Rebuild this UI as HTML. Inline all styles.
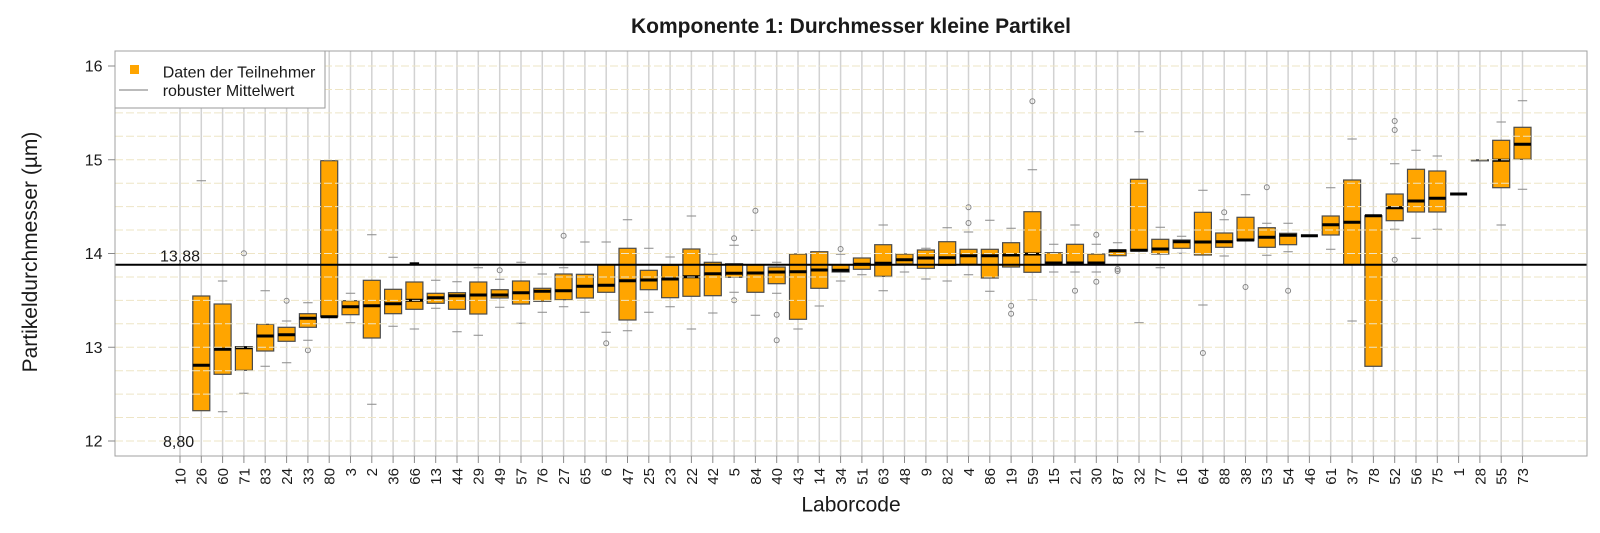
<!DOCTYPE html>
<html>
<head>
<meta charset="utf-8">
<style>
html,body{margin:0;padding:0;background:#fff;}
svg{display:block;}
text{font-family:"Liberation Sans",Arial,sans-serif;fill:#1a1a1a;}
</style>
</head>
<body>
<svg width="1600" height="533" viewBox="0 0 1600 533" xmlns="http://www.w3.org/2000/svg">
<rect x="0" y="0" width="1600" height="533" fill="#fff"/>

<!-- vertical gridlines -->
<path fill="none" stroke="#d2d2d2" stroke-width="1.5" d="M180 51V456M201.3 51V456M222.6 51V456M243.9 51V456M265.2 51V456M286.6 51V456M307.9 51V456M329.2 51V456M350.5 51V456M371.8 51V456M393.1 51V456M414.4 51V456M435.7 51V456M457 51V456M478.3 51V456M499.7 51V456M521 51V456M542.3 51V456M563.6 51V456M584.9 51V456M606.2 51V456M627.5 51V456M648.8 51V456M670.1 51V456M691.4 51V456M712.8 51V456M734.1 51V456M755.4 51V456M776.7 51V456M798 51V456M819.3 51V456M840.6 51V456M861.9 51V456M883.2 51V456M904.5 51V456M925.9 51V456M947.2 51V456M968.5 51V456M989.8 51V456M1011.1 51V456M1032.4 51V456M1053.7 51V456M1075 51V456M1096.3 51V456M1117.6 51V456M1139 51V456M1160.3 51V456M1181.6 51V456M1202.9 51V456M1224.2 51V456M1245.5 51V456M1266.8 51V456M1288.1 51V456M1309.4 51V456M1330.7 51V456M1352.1 51V456M1373.4 51V456M1394.7 51V456M1416 51V456M1437.3 51V456M1458.6 51V456M1479.9 51V456M1501.2 51V456M1522.5 51V456"/>

<!-- caps -->
<path fill="none" stroke="#8a8a8a" stroke-width="1" d="M196.6 180.7h9.4M217.9 281h9.4M217.9 411.7h9.4M239.2 393.3h9.4M260.5 290.7h9.4M260.5 366.3h9.4M281.9 321h9.4M281.9 362.7h9.4M303.2 302.7h9.4M303.2 340.3h9.4M345.8 293.3h9.4M345.8 322.7h9.4M367.1 234.7h9.4M367.1 404.3h9.4M388.4 257.3h9.4M388.4 326.3h9.4M409.7 329h9.4M431 280.3h9.4M431 308.3h9.4M452.3 281.7h9.4M452.3 331.7h9.4M473.6 267.7h9.4M473.6 335.3h9.4M495 279.3h9.4M495 307.3h9.4M516.3 262.3h9.4M516.3 323.3h9.4M537.6 274h9.4M537.6 312.3h9.4M558.9 267.7h9.4M558.9 306.7h9.4M580.2 242h9.4M580.2 312.3h9.4M601.5 242h9.4M601.5 332.3h9.4M622.8 219.7h9.4M622.8 330.7h9.4M644.1 248.3h9.4M644.1 312.3h9.4M665.4 257h9.4M665.4 306.7h9.4M686.7 216h9.4M686.7 329h9.4M708.1 254h9.4M708.1 313h9.4M729.4 245.3h9.4M729.4 292.3h9.4M750.7 230.3h9.4M750.7 315.3h9.4M772 262.3h9.4M772 293.3h9.4M793.3 329h9.4M814.6 306h9.4M835.9 254.3h9.4M835.9 281h9.4M857.2 274.7h9.4M878.5 225h9.4M878.5 290.7h9.4M899.8 272h9.4M921.2 248.3h9.4M921.2 279h9.4M942.5 227.7h9.4M942.5 281h9.4M963.8 232h9.4M963.8 274.7h9.4M985.1 220.3h9.4M985.1 291.3h9.4M1006.4 228.3h9.4M1027.7 169.7h9.4M1027.7 300h9.4M1049 244.3h9.4M1049 272h9.4M1070.3 225h9.4M1070.3 272h9.4M1091.6 244.3h9.4M1091.6 272h9.4M1112.9 242.7h9.4M1134.3 131.7h9.4M1134.3 322.7h9.4M1155.6 227.3h9.4M1155.6 267.7h9.4M1176.9 236.3h9.4M1176.9 253.3h9.4M1198.2 190.3h9.4M1198.2 305h9.4M1219.5 219.7h9.4M1219.5 256h9.4M1240.8 194.7h9.4M1262.1 223.3h9.4M1262.1 255.3h9.4M1283.4 223.3h9.4M1283.4 251.7h9.4M1326 187.7h9.4M1326 249.3h9.4M1347.4 139h9.4M1347.4 321h9.4M1390 163.7h9.4M1390 229.3h9.4M1411.3 150.3h9.4M1411.3 238.3h9.4M1432.6 156h9.4M1432.6 229.3h9.4M1496.5 122h9.4M1496.5 225h9.4M1517.8 100.7h9.4M1517.8 189.3h9.4"/>
<path fill="none" stroke="#000" stroke-width="2" d="M409.7 263.3h9.4"/>

<!-- boxes -->
<g fill="#FFA500" stroke="#4a4a4a" stroke-width="1.2">
<rect x="192.8" y="296" width="17" height="114.7"/>
<rect x="214.1" y="304" width="17" height="70.3"/>
<rect x="235.4" y="346.7" width="17" height="23.6"/>
<rect x="256.7" y="324.3" width="17" height="26.7"/>
<rect x="278.1" y="327.3" width="17" height="14"/>
<rect x="299.4" y="313.7" width="17" height="13.6"/>
<rect x="320.7" y="160.7" width="17" height="156"/>
<rect x="342" y="300.7" width="17" height="14"/>
<rect x="363.3" y="280.3" width="17" height="57.7"/>
<rect x="384.6" y="289.3" width="17" height="24.4"/>
<rect x="405.9" y="282" width="17" height="27.3"/>
<rect x="427.2" y="293.3" width="17" height="10"/>
<rect x="448.5" y="292.7" width="17" height="16.6"/>
<rect x="469.8" y="282" width="17" height="32"/>
<rect x="491.2" y="289.7" width="17" height="8.3"/>
<rect x="512.5" y="281" width="17" height="23"/>
<rect x="533.8" y="288.3" width="17" height="13"/>
<rect x="555.1" y="274" width="17" height="25.7"/>
<rect x="576.4" y="274.3" width="17" height="23.7"/>
<rect x="597.7" y="264.7" width="17" height="27.6"/>
<rect x="619" y="248.3" width="17" height="71.7"/>
<rect x="640.3" y="270.3" width="17" height="19.4"/>
<rect x="661.6" y="265.3" width="17" height="32.4"/>
<rect x="682.9" y="249" width="17" height="47.3"/>
<rect x="704.3" y="262.3" width="17" height="33.4"/>
<rect x="725.6" y="263.7" width="17" height="13.6"/>
<rect x="746.9" y="265" width="17" height="27.3"/>
<rect x="768.2" y="267" width="17" height="16.7"/>
<rect x="789.5" y="254" width="17" height="65.3"/>
<rect x="810.8" y="251.7" width="17" height="36.6"/>
<rect x="832.1" y="265" width="17" height="7"/>
<rect x="853.4" y="258" width="17" height="11.3"/>
<rect x="874.7" y="244.7" width="17" height="31.6"/>
<rect x="896" y="254" width="17" height="10"/>
<rect x="917.4" y="250" width="17" height="18.3"/>
<rect x="938.7" y="241.7" width="17" height="23.6"/>
<rect x="960" y="249.3" width="17" height="15"/>
<rect x="981.3" y="249.3" width="17" height="28.7"/>
<rect x="1002.6" y="242.7" width="17" height="24.3"/>
<rect x="1023.9" y="211.7" width="17" height="60.6"/>
<rect x="1045.2" y="252.7" width="17" height="11"/>
<rect x="1066.5" y="244.3" width="17" height="19.4"/>
<rect x="1087.8" y="254" width="17" height="9.7"/>
<rect x="1109.1" y="250" width="17" height="5.7"/>
<rect x="1130.5" y="179.3" width="17" height="71.7"/>
<rect x="1151.8" y="239.3" width="17" height="14.7"/>
<rect x="1173.1" y="240" width="17" height="8.3"/>
<rect x="1194.4" y="212.3" width="17" height="42.7"/>
<rect x="1215.7" y="233" width="17" height="14.3"/>
<rect x="1237" y="217.3" width="17" height="23.4"/>
<rect x="1258.3" y="227.7" width="17" height="19.6"/>
<rect x="1279.6" y="233.3" width="17" height="11.4"/>
<rect x="1322.2" y="216" width="17" height="19"/>
<rect x="1343.6" y="180" width="17" height="84.7"/>
<rect x="1364.9" y="215.7" width="17" height="150.6"/>
<rect x="1386.2" y="194" width="17" height="26.7"/>
<rect x="1407.5" y="169.3" width="17" height="42.7"/>
<rect x="1428.8" y="171" width="17" height="41"/>
<rect x="1471.4" y="159.8" width="17" height="1"/>
<rect x="1492.7" y="140.3" width="17" height="47.4"/>
<rect x="1514" y="127.3" width="17" height="32"/>
</g>

<!-- medians -->
<path fill="none" stroke="#000" stroke-width="3" d="M192.8 365.3h17M214.1 349.3h17M235.4 347.7h17M256.7 336h17M278.1 334.7h17M299.4 318.3h17M320.7 316.7h17M342 306.7h17M363.3 305.7h17M384.6 303.7h17M405.9 300.3h17M427.2 297.7h17M448.5 295.7h17M469.8 295h17M491.2 295h17M512.5 292.7h17M533.8 291.3h17M555.1 290.7h17M576.4 286.3h17M597.7 285.3h17M619 280.7h17M640.3 280h17M661.6 279h17M682.9 276.7h17M704.3 273.7h17M725.6 273.3h17M746.9 273h17M768.2 272h17M789.5 271.7h17M810.8 270h17M832.1 270.3h17M853.4 264.3h17M874.7 263.3h17M896 259.7h17M917.4 258h17M938.7 257.7h17M960 255.7h17M981.3 255.7h17M1002.6 255h17M1023.9 254h17M1045.2 263h17M1066.5 263h17M1087.8 263h17M1109.1 250.7h17M1130.5 250.3h17M1151.8 249h17M1173.1 241.7h17M1194.4 242h17M1215.7 241.7h17M1237 240h17M1258.3 237.3h17M1279.6 235.3h17M1300.9 235.7h17M1322.2 224.7h17M1343.6 222.3h17M1364.9 215.7h17M1386.2 207.7h17M1407.5 201h17M1428.8 198.3h17M1450.1 194h17M1492.7 160.3h17M1514 144.3h17"/>

<!-- outliers -->
<g fill="none" stroke="#858585" stroke-width="1">
<circle cx="243.9" cy="253.3" r="2.5"/>
<circle cx="286.6" cy="300.7" r="2.5"/>
<circle cx="307.9" cy="350.3" r="2.5"/>
<circle cx="499.7" cy="270.3" r="2.5"/>
<circle cx="563.6" cy="235.7" r="2.5"/>
<circle cx="606.2" cy="343.3" r="2.5"/>
<circle cx="734.1" cy="238.3" r="2.5"/>
<circle cx="734.1" cy="300.3" r="2.5"/>
<circle cx="755.4" cy="210.7" r="2.5"/>
<circle cx="776.7" cy="314.7" r="2.5"/>
<circle cx="776.7" cy="340.3" r="2.5"/>
<circle cx="840.6" cy="249" r="2.5"/>
<circle cx="968.5" cy="207.3" r="2.5"/>
<circle cx="968.5" cy="223" r="2.5"/>
<circle cx="1011.1" cy="305.7" r="2.5"/>
<circle cx="1011.1" cy="313.7" r="2.5"/>
<circle cx="1032.4" cy="101.3" r="2.5"/>
<circle cx="1075" cy="290.7" r="2.5"/>
<circle cx="1096.3" cy="234.7" r="2.5"/>
<circle cx="1096.3" cy="281.7" r="2.5"/>
<circle cx="1117.6" cy="269" r="2.5"/>
<circle cx="1117.6" cy="271" r="2.5"/>
<circle cx="1202.9" cy="353" r="2.5"/>
<circle cx="1224.2" cy="212.3" r="2.5"/>
<circle cx="1245.5" cy="287" r="2.5"/>
<circle cx="1266.8" cy="187.3" r="2.5"/>
<circle cx="1288.1" cy="290.7" r="2.5"/>
<circle cx="1394.7" cy="121" r="2.5"/>
<circle cx="1394.7" cy="130" r="2.5"/>
<circle cx="1394.7" cy="259.7" r="2.5"/>
</g>

<!-- horizontal dashed gridlines -->
<path fill="none" stroke="#EEE5C6" stroke-width="1" stroke-dasharray="8,3" d="M115 441H1587M115 417.56H1587M115 394.13H1587M115 370.69H1587M115 347.25H1587M115 323.81H1587M115 300.38H1587M115 276.94H1587M115 253.5H1587M115 230.06H1587M115 206.63H1587M115 183.19H1587M115 159.75H1587M115 136.31H1587M115 112.88H1587M115 89.44H1587M115 66H1587"/>

<!-- mean line -->
<line x1="115" y1="264.75" x2="1587" y2="264.75" stroke="#000" stroke-width="2"/>

<!-- legend -->
<rect x="115" y="51" width="210" height="57" fill="#fff" stroke="#9a9a9a" stroke-width="1"/>
<rect x="130" y="65" width="9" height="9" fill="#FFA500"/>
<line x1="119" y1="90" x2="148" y2="90" stroke="#777" stroke-width="1"/>
<text x="162.7" y="77.3" font-size="16">Daten der Teilnehmer</text>
<text x="162.7" y="96" font-size="16">robuster Mittelwert</text>

<!-- plot border -->
<rect x="115" y="51" width="1472" height="405" fill="none" stroke="#a0a0a0" stroke-width="1"/>

<!-- annotations -->
<text x="160" y="261.5" font-size="16">13,88</text>
<text x="163" y="447" font-size="16">8,80</text>

<!-- y axis ticks -->
<path fill="none" stroke="#8a8a8a" stroke-width="1" d="M108 441H115M108 347.25H115M108 253.5H115M108 159.75H115M108 66H115"/>
<g font-size="16" text-anchor="end">
<text x="102.5" y="446.7">12</text>
<text x="102.5" y="352.9">13</text>
<text x="102.5" y="259.2">14</text>
<text x="102.5" y="165.4">15</text>
<text x="102.5" y="71.7">16</text>
</g>

<!-- x axis ticks -->
<path fill="none" stroke="#8a8a8a" stroke-width="1" d="M180 456V463M201.3 456V463M222.6 456V463M243.9 456V463M265.2 456V463M286.6 456V463M307.9 456V463M329.2 456V463M350.5 456V463M371.8 456V463M393.1 456V463M414.4 456V463M435.7 456V463M457 456V463M478.3 456V463M499.7 456V463M521 456V463M542.3 456V463M563.6 456V463M584.9 456V463M606.2 456V463M627.5 456V463M648.8 456V463M670.1 456V463M691.4 456V463M712.8 456V463M734.1 456V463M755.4 456V463M776.7 456V463M798 456V463M819.3 456V463M840.6 456V463M861.9 456V463M883.2 456V463M904.5 456V463M925.9 456V463M947.2 456V463M968.5 456V463M989.8 456V463M1011.1 456V463M1032.4 456V463M1053.7 456V463M1075 456V463M1096.3 456V463M1117.6 456V463M1139 456V463M1160.3 456V463M1181.6 456V463M1202.9 456V463M1224.2 456V463M1245.5 456V463M1266.8 456V463M1288.1 456V463M1309.4 456V463M1330.7 456V463M1352.1 456V463M1373.4 456V463M1394.7 456V463M1416 456V463M1437.3 456V463M1458.6 456V463M1479.9 456V463M1501.2 456V463M1522.5 456V463"/>
<g font-size="15" text-anchor="end">
<text transform="translate(185.4,468) rotate(-90)">10</text>
<text transform="translate(206.7,468) rotate(-90)">26</text>
<text transform="translate(228,468) rotate(-90)">60</text>
<text transform="translate(249.3,468) rotate(-90)">71</text>
<text transform="translate(270.6,468) rotate(-90)">83</text>
<text transform="translate(292,468) rotate(-90)">24</text>
<text transform="translate(313.3,468) rotate(-90)">33</text>
<text transform="translate(334.6,468) rotate(-90)">80</text>
<text transform="translate(355.9,468) rotate(-90)">3</text>
<text transform="translate(377.2,468) rotate(-90)">2</text>
<text transform="translate(398.5,468) rotate(-90)">36</text>
<text transform="translate(419.8,468) rotate(-90)">66</text>
<text transform="translate(441.1,468) rotate(-90)">13</text>
<text transform="translate(462.4,468) rotate(-90)">44</text>
<text transform="translate(483.7,468) rotate(-90)">29</text>
<text transform="translate(505.1,468) rotate(-90)">49</text>
<text transform="translate(526.4,468) rotate(-90)">57</text>
<text transform="translate(547.7,468) rotate(-90)">76</text>
<text transform="translate(569,468) rotate(-90)">27</text>
<text transform="translate(590.3,468) rotate(-90)">65</text>
<text transform="translate(611.6,468) rotate(-90)">6</text>
<text transform="translate(632.9,468) rotate(-90)">47</text>
<text transform="translate(654.2,468) rotate(-90)">25</text>
<text transform="translate(675.5,468) rotate(-90)">23</text>
<text transform="translate(696.8,468) rotate(-90)">22</text>
<text transform="translate(718.2,468) rotate(-90)">42</text>
<text transform="translate(739.5,468) rotate(-90)">5</text>
<text transform="translate(760.8,468) rotate(-90)">84</text>
<text transform="translate(782.1,468) rotate(-90)">40</text>
<text transform="translate(803.4,468) rotate(-90)">43</text>
<text transform="translate(824.7,468) rotate(-90)">14</text>
<text transform="translate(846,468) rotate(-90)">34</text>
<text transform="translate(867.3,468) rotate(-90)">51</text>
<text transform="translate(888.6,468) rotate(-90)">63</text>
<text transform="translate(909.9,468) rotate(-90)">48</text>
<text transform="translate(931.3,468) rotate(-90)">9</text>
<text transform="translate(952.6,468) rotate(-90)">82</text>
<text transform="translate(973.9,468) rotate(-90)">4</text>
<text transform="translate(995.2,468) rotate(-90)">86</text>
<text transform="translate(1016.5,468) rotate(-90)">19</text>
<text transform="translate(1037.8,468) rotate(-90)">59</text>
<text transform="translate(1059.1,468) rotate(-90)">15</text>
<text transform="translate(1080.4,468) rotate(-90)">21</text>
<text transform="translate(1101.7,468) rotate(-90)">30</text>
<text transform="translate(1123,468) rotate(-90)">87</text>
<text transform="translate(1144.4,468) rotate(-90)">32</text>
<text transform="translate(1165.7,468) rotate(-90)">77</text>
<text transform="translate(1187,468) rotate(-90)">16</text>
<text transform="translate(1208.3,468) rotate(-90)">64</text>
<text transform="translate(1229.6,468) rotate(-90)">88</text>
<text transform="translate(1250.9,468) rotate(-90)">38</text>
<text transform="translate(1272.2,468) rotate(-90)">53</text>
<text transform="translate(1293.5,468) rotate(-90)">54</text>
<text transform="translate(1314.8,468) rotate(-90)">46</text>
<text transform="translate(1336.1,468) rotate(-90)">61</text>
<text transform="translate(1357.5,468) rotate(-90)">37</text>
<text transform="translate(1378.8,468) rotate(-90)">78</text>
<text transform="translate(1400.1,468) rotate(-90)">52</text>
<text transform="translate(1421.4,468) rotate(-90)">56</text>
<text transform="translate(1442.7,468) rotate(-90)">75</text>
<text transform="translate(1464,468) rotate(-90)">1</text>
<text transform="translate(1485.3,468) rotate(-90)">28</text>
<text transform="translate(1506.6,468) rotate(-90)">55</text>
<text transform="translate(1527.9,468) rotate(-90)">73</text>
</g>

<!-- titles -->
<text x="851" y="33" font-size="21" font-weight="bold" text-anchor="middle">Komponente 1: Durchmesser kleine Partikel</text>
<text x="851" y="511.5" font-size="21" text-anchor="middle">Laborcode</text>
<text transform="translate(37,252) rotate(-90)" font-size="21" text-anchor="middle">Partikeldurchmesser (µm)</text>
</svg>
</body>
</html>
